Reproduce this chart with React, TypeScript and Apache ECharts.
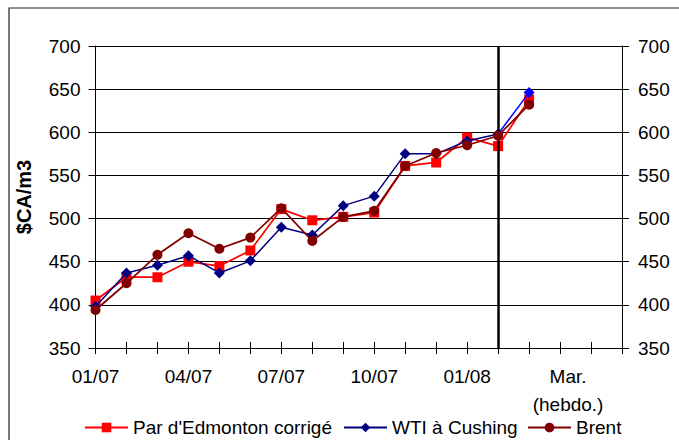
import React, { useEffect, useRef } from "react";
import * as echarts from "echarts";

const categories = [
  "01/07", "02/07", "03/07", "04/07", "05/07", "06/07", "07/07", "08/07", "09/07",
  "10/07", "11/07", "12/07", "01/08", "02/08", "03/08 s1", "03/08 s2", "03/08 s3", "03/08 s4",
];
const tickLabels = [
  "01/07", "", "", "04/07", "", "", "07/07", "", "", "10/07", "", "", "01/08", "", "", "Mar.\n(hebdo.)", "", "",
];
const edmonton = [405, 432, 432, 450, 445, 463, 511, 498, 502, 507, 561, 565, 594, 584, 638];
const wti = [398, 437, 446, 457, 437, 451, 490, 481, 515, 526, 575, 575, 590, 598, 646];
const brent = [394, 425, 458, 483, 465, 478, 512, 474, 502, 509, 561, 576, 585, 596, 632];
const seriesNames = ["Par d'Edmonton corrigé", "WTI à Cushing", "Brent"];
const dividerCategory = "02/08";
const weeklyStart = 13; // index where the weekly segment begins

const FONT = "Liberation Sans, Arial, sans-serif";

export default function App() {
  const ref = useRef<HTMLDivElement>(null);
  useEffect(() => {
    if (!ref.current) return;
    const chart = echarts.init(ref.current, null, { renderer: "svg" });
    const yAxisCommon = {
      type: "value",
      min: 350,
      max: 700,
      interval: 50,
      axisLine: { show: true, lineStyle: { color: "#000", width: 1 } },
      axisTick: { show: true, length: 7, lineStyle: { color: "#000" } },
      splitLine: { show: true, lineStyle: { color: "#000", width: 1 } },
    };
    const wtiMonthly = wti.map((v, i) => (i <= weeklyStart ? v : null));
    const wtiWeekly = wti.map((v, i) =>
      i < weeklyStart ? null : i === weeklyStart ? { value: v, symbol: "none" } : v
    );
    const legendCommon = {
      top: 418,
      padding: 0,
      itemWidth: 43,
      itemHeight: 12,
      itemGap: 5,
      textStyle: { fontSize: 19, color: "#000", fontFamily: FONT },
    };
    chart.setOption({
      animation: false,
      backgroundColor: "#fff",
      textStyle: { fontFamily: FONT },
      graphic: [
        {
          type: "rect",
          shape: { x: 9, y: 8, width: 720, height: 520 },
          style: { fill: "none", stroke: "#222", lineWidth: 1.2 },
          silent: true,
        },
      ],
      grid: { left: 95.5, right: 57, top: 46, bottom: 92, containLabel: false },
      xAxis: [
        {
          type: "category",
          data: categories,
          boundaryGap: false,
          axisLine: { show: true, lineStyle: { color: "#000", width: 1 } },
          axisTick: { show: true, interval: 0, length: 6, lineStyle: { color: "#000" } },
          axisLabel: {
            interval: 0,
            margin: 14,
            color: "#000",
            fontSize: 19,
            fontFamily: FONT,
            lineHeight: 28,
            formatter: (_v: string, i: number) => {
              const t = tickLabels[i];
              if (t.indexOf("\n") >= 0) {
                return t
                  .split("\n")
                  .map((s) => "{m|" + s + "}")
                  .join("\n");
              }
              return t;
            },
            rich: {
              m: { fontSize: 19, fontFamily: FONT, color: "#000", lineHeight: 28, padding: [0, 0, 0, 16] },
            },
          },
          splitLine: { show: false },
        },
        {
          type: "category",
          data: categories,
          boundaryGap: false,
          position: "bottom",
          axisLine: { show: false },
          axisTick: { show: true, inside: true, interval: 0, length: 6, lineStyle: { color: "#000" } },
          axisLabel: { show: false },
          splitLine: { show: false },
        },
      ],
      yAxis: [
        {
          ...yAxisCommon,
          position: "left",
          name: "$CA/m3",
          nameLocation: "middle",
          nameGap: 62,
          nameRotate: 90,
          nameTextStyle: { fontSize: 20, fontWeight: "bold", color: "#000", fontFamily: FONT },
          axisLabel: { margin: 15, fontSize: 19, color: "#000", fontFamily: FONT },
        },
        {
          ...yAxisCommon,
          position: "right",
          axisLabel: { margin: 16, fontSize: 19, color: "#000", fontFamily: FONT },
          splitLine: { show: false },
        },
      ],
      legend: [
        { ...legendCommon, data: [seriesNames[0]], left: 84 },
        { ...legendCommon, data: [seriesNames[1]], left: 343 },
        { ...legendCommon, data: [seriesNames[2]], left: 527 },
      ],
      series: [
        {
          name: seriesNames[0],
          type: "line",
          data: edmonton,
          symbol: "rect",
          symbolSize: 10,
          itemStyle: { color: "#FF0000" },
          lineStyle: { color: "#FF0000", width: 1.75 },
          z: 3,
          markLine: {
            silent: true,
            symbol: ["none", "none"],
            label: { show: false },
            lineStyle: { color: "#000", width: 2.5, type: "solid" },
            data: [{ xAxis: dividerCategory }],
          },
        },
        {
          name: seriesNames[1],
          type: "line",
          data: wtiMonthly,
          symbol: "diamond",
          symbolSize: [11, 11],
          itemStyle: { color: "#000080" },
          lineStyle: { color: "#000080", width: 1.5 },
          z: 4,
        },
        {
          name: seriesNames[1] + " (hebdo.)",
          type: "line",
          data: wtiWeekly,
          symbol: "diamond",
          symbolSize: [11, 11],
          itemStyle: { color: "#0000FF" },
          lineStyle: { color: "#0000FF", width: 1.5 },
          z: 4,
        },
        {
          name: seriesNames[2],
          type: "line",
          data: brent,
          symbol: "circle",
          symbolSize: 10,
          itemStyle: { color: "#800000" },
          lineStyle: { color: "#800000", width: 1.75 },
          z: 5,
        },
      ],
    });
    return () => chart.dispose();
  }, []);
  return (
    <div
      ref={ref}
      style={{ position: "absolute", left: 0, top: 0, width: 679, height: 440 }}
    />
  );
}
